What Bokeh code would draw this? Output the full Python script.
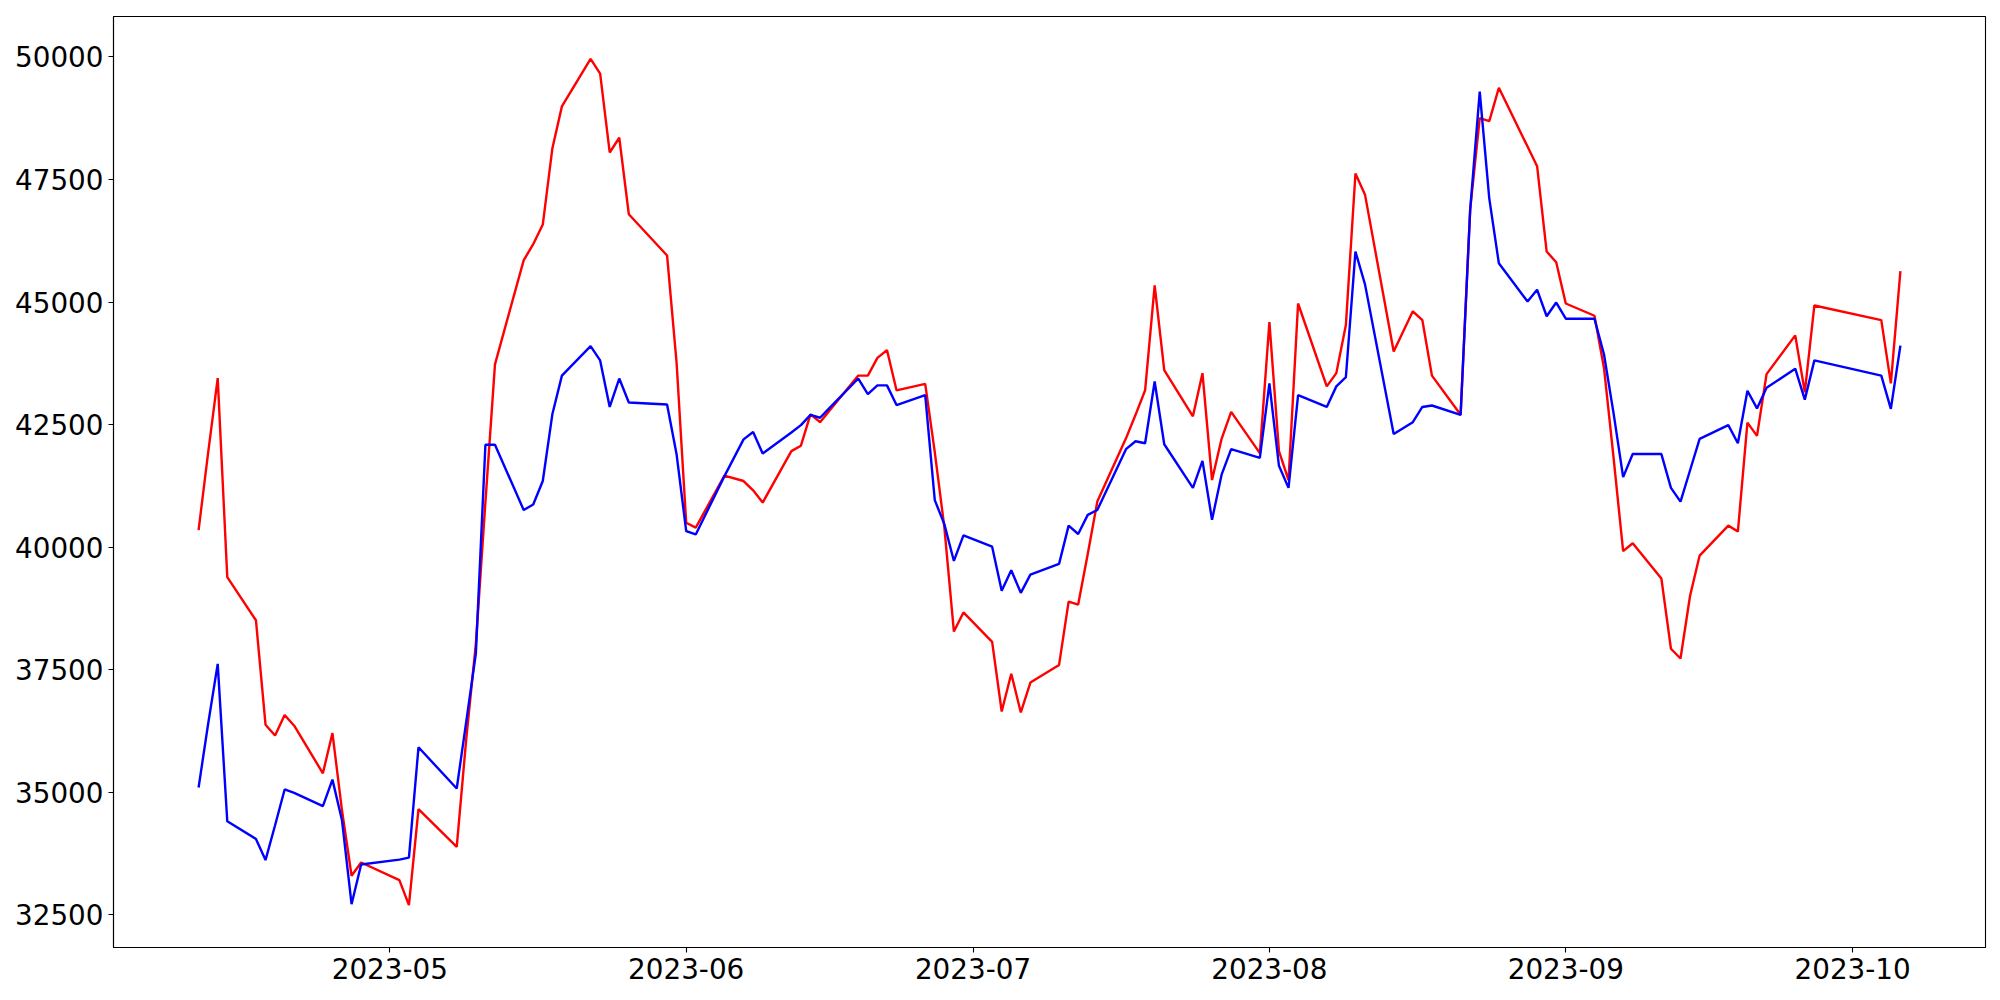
import pandas as pd
from bokeh.plotting import figure
from bokeh.models import Range1d, FixedTicker, DatetimeTickFormatter, ColumnDataSource
from bokeh.embed import file_html
from bokeh.resources import INLINE

# Trading days (Korean exchange calendar) from 2023-04-11 to 2023-10-06
start_date = "2023-04-11"
end_date = "2023-10-06"
holidays = ["2023-05-01", "2023-05-05", "2023-05-29", "2023-06-06", "2023-08-15",
            "2023-09-28", "2023-09-29", "2023-10-02", "2023-10-03"]

red_values = [
    # April
    40350, 41930, 43450, 39390, 38510, 36380, 36160, 36580, 36360, 35390, 36210, 34630, 33300, 33570,
    # May
    33210, 32700, 34660, 33890, 36100, 38030, 40920, 43730, 45850, 46180, 46580, 48130, 48990,
    49960, 49660, 48050, 48350, 46790, 45950, 43750,
    # June
    40500, 40400, 41460, 41350, 41160, 40910, 41960, 42070, 42710, 42550, 42790, 43500, 43500,
    43860, 44020, 43200, 43330, 41940, 40410, 38280, 38670,
    # July
    38070, 36650, 37420, 36630, 37240, 37600, 38890, 38830, 39860, 40930, 42220, 42700, 43200,
    45340, 43610, 42670, 43550, 41370, 42210, 42760, 41920,
    # August
    44590, 41960, 41370, 44970, 43280, 43550, 44530, 47620, 47190, 43990, 44810, 44630, 43500,
    42700, 46890, 48750, 48690, 49370, 48170, 47770, 46030, 45810,
    # September
    44970, 44720, 43650, 41820, 39920, 40080, 39360, 37930, 37730, 39010, 39830, 40440, 40320,
    42540, 42270, 43530, 44320, 43160, 44930,
    # October
    44630, 43340, 45630,
]

blue_values = [
    # April
    35100, 36400, 37620, 34410, 34050, 33620, 34330, 35060, 34990, 34720, 35260, 34430, 32720, 33530,
    # May
    33630, 33670, 35920, 35080, 36450, 37830, 42090, 42090, 40760, 40870, 41350, 42710, 43500,
    44100, 43810, 42860, 43440, 42950, 42910, 41890,
    # June
    40330, 40260, 41450, 42200, 42350, 41910, 42340, 42490, 42700, 42640, 42840, 43440, 43120,
    43300, 43300, 42900, 43100, 40960, 40470, 39720, 40240,
    # July
    40010, 39110, 39530, 39070, 39440, 39660, 40440, 40270, 40660, 40760, 42000, 42160, 42120,
    43380, 42100, 41210, 41760, 40560, 41480, 42000, 41820,
    # August
    43340, 41660, 41210, 43100, 42860, 43280, 43470, 46030, 45360, 42310, 42550, 42860, 42890,
    42700, 46880, 49290, 47110, 45790, 45010, 45250, 44710, 44990,
    # September
    44660, 44660, 43930, 42730, 41430, 41900, 41900, 41210, 40930, 41570, 42210, 42490, 42120,
    43190, 42830, 43250, 43640, 43010, 43810,
    # October
    43500, 42820, 44110,
]

x_tick_dates = ["2023-05-01", "2023-06-01", "2023-07-01", "2023-08-01", "2023-09-01", "2023-10-01"]
y_ticks = [32500, 35000, 37500, 40000, 42500, 45000, 47500, 50000]

dates = pd.bdate_range(start_date, end_date, freq="C", holidays=holidays)
assert len(dates) == len(red_values) == len(blue_values), (len(dates), len(red_values), len(blue_values))

src = ColumnDataSource(dict(date=dates, red=red_values, blue=blue_values))

def ms(t):
    return pd.Timestamp(t).timestamp() * 1000.0

x0, x1 = ms(dates[0]), ms(dates[-1])
xpad = 0.05 * (x1 - x0)
all_vals = red_values + blue_values
y0, y1 = min(all_vals), max(all_vals)
ypad = 0.05 * (y1 - y0)

p = figure(
    frame_width=1872, frame_height=931,
    x_axis_type="datetime",
    x_range=Range1d(x0 - xpad, x1 + xpad),
    y_range=Range1d(y0 - ypad, y1 + ypad),
    output_backend="svg", toolbar_location=None,
    min_border_left=113, min_border_right=7, min_border_top=16, min_border_bottom=40,
    background_fill_color="white", border_fill_color="white",
)

p.line(x="date", y="red", source=src, line_color="#ff0000", line_width=2.4)
p.line(x="date", y="blue", source=src, line_color="#0000ff", line_width=2.4)

p.xgrid.visible = False
p.ygrid.visible = False
p.outline_line_color = "black"
p.outline_line_width = 1.1
p.outline_line_alpha = 1.0

p.xaxis.ticker = FixedTicker(ticks=[ms(t) for t in x_tick_dates])
fmt = "%Y-%m"
p.xaxis.formatter = DatetimeTickFormatter(days=fmt, months=fmt, years=fmt, hours=fmt,
                                          hourmin=fmt, minutes=fmt, minsec=fmt, seconds=fmt,
                                          milliseconds=fmt, microseconds=fmt)
p.yaxis.ticker = FixedTicker(ticks=y_ticks)

for ax in (p.xaxis, p.yaxis):
    ax.major_label_text_font = "DejaVu Sans"
    ax.major_label_text_font_size = "27.8px"
    ax.major_label_text_color = "black"
    ax.minor_tick_line_color = None
    ax.major_tick_out = 5
    ax.major_tick_in = 0
    ax.major_tick_line_width = 1.1
    ax.major_tick_line_color = "black"
    ax.axis_line_color = "black"
    ax.axis_line_width = 1.1
    ax.major_label_standoff = 5

open("out.html", "w").write(file_html(p, INLINE))
